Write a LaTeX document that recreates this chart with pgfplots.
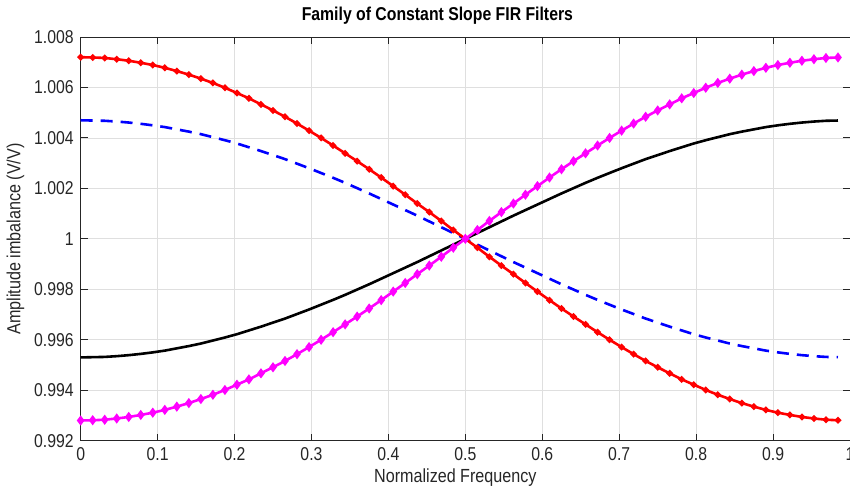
\documentclass[border=0pt]{standalone}
\usepackage{pgfplots}
\pgfplotsset{compat=1.18}
\usepackage{pgfplotstable}
\usepackage{fontspec}
\setmainfont[FakeStretch=0.85]{Liberation Sans}
\definecolor{axgray}{RGB}{38,38,38}
\definecolor{gridgray}{RGB}{223,223,223}
\definecolor{mag}{RGB}{255,0,255}
\pgfplotstableread{
f red mag blue black
0 1.00720 0.99280 1.00470 0.99530
0.015625 1.00719 0.99281 1.00469 0.99531
0.03125 1.00717 0.99283 1.00468 0.99532
0.046875 1.00712 0.99288 1.00465 0.99535
0.0625 1.00706 0.99294 1.00461 0.99539
0.078125 1.00698 0.99302 1.00456 0.99544
0.09375 1.00689 0.99311 1.00450 0.99550
0.109375 1.00678 0.99322 1.00443 0.99557
0.125 1.00665 0.99335 1.00434 0.99566
0.140625 1.00651 0.99349 1.00425 0.99575
0.15625 1.00635 0.99365 1.00415 0.99585
0.171875 1.00618 0.99382 1.00403 0.99597
0.1875 1.00599 0.99401 1.00391 0.99609
0.203125 1.00578 0.99422 1.00378 0.99622
0.21875 1.00557 0.99443 1.00363 0.99637
0.234375 1.00533 0.99467 1.00348 0.99652
0.25 1.00509 0.99491 1.00332 0.99668
0.265625 1.00484 0.99516 1.00316 0.99684
0.28125 1.00457 0.99543 1.00298 0.99702
0.296875 1.00429 0.99571 1.00280 0.99720
0.3125 1.00400 0.99600 1.00261 0.99739
0.328125 1.00370 0.99630 1.00242 0.99758
0.34375 1.00339 0.99661 1.00222 0.99778
0.359375 1.00308 0.99692 1.00201 0.99799
0.375 1.00276 0.99724 1.00180 0.99820
0.390625 1.00243 0.99757 1.00158 0.99842
0.40625 1.00209 0.99791 1.00136 0.99864
0.421875 1.00175 0.99825 1.00114 0.99886
0.4375 1.00140 0.99860 1.00092 0.99908
0.453125 1.00106 0.99894 1.00069 0.99931
0.46875 1.00071 0.99929 1.00046 0.99954
0.484375 1.00035 0.99965 1.00023 0.99977
0.5 1.00000 1.00000 1.00000 1.00000
0.515625 0.99965 1.00035 0.99977 1.00023
0.53125 0.99929 1.00071 0.99954 1.00046
0.546875 0.99894 1.00106 0.99931 1.00069
0.5625 0.99860 1.00140 0.99908 1.00092
0.578125 0.99825 1.00175 0.99886 1.00114
0.59375 0.99791 1.00209 0.99864 1.00136
0.609375 0.99757 1.00243 0.99842 1.00158
0.625 0.99724 1.00276 0.99820 1.00180
0.640625 0.99692 1.00308 0.99799 1.00201
0.65625 0.99661 1.00339 0.99778 1.00222
0.671875 0.99630 1.00370 0.99758 1.00242
0.6875 0.99600 1.00400 0.99739 1.00261
0.703125 0.99571 1.00429 0.99720 1.00280
0.71875 0.99543 1.00457 0.99702 1.00298
0.734375 0.99516 1.00484 0.99684 1.00316
0.75 0.99491 1.00509 0.99668 1.00332
0.765625 0.99467 1.00533 0.99652 1.00348
0.78125 0.99443 1.00557 0.99637 1.00363
0.796875 0.99422 1.00578 0.99622 1.00378
0.8125 0.99401 1.00599 0.99609 1.00391
0.828125 0.99382 1.00618 0.99597 1.00403
0.84375 0.99365 1.00635 0.99585 1.00415
0.859375 0.99349 1.00651 0.99575 1.00425
0.875 0.99335 1.00665 0.99566 1.00434
0.890625 0.99322 1.00678 0.99557 1.00443
0.90625 0.99311 1.00689 0.99550 1.00450
0.921875 0.99302 1.00698 0.99544 1.00456
0.9375 0.99294 1.00706 0.99539 1.00461
0.953125 0.99288 1.00712 0.99535 1.00465
0.96875 0.99283 1.00717 0.99532 1.00468
0.984375 0.99281 1.00719 0.99531 1.00469
}\datatable
\begin{document}
\begin{tikzpicture}[trim axis right]
\begin{axis}[
  scale only axis,
  width=385pt, height=202pt,
  xmin=0, xmax=1, ymin=0.992, ymax=1.008,
  xtick={0,0.1,0.2,0.3,0.4,0.5,0.6,0.7,0.8,0.9,1},
  xticklabels={0,0.1,0.2,0.3,0.4,0.5,0.6,0.7,0.8,0.9,1},
  ytick={0.992,0.994,0.996,0.998,1,1.002,1.004,1.006,1.008},
  yticklabels={0.992,0.994,0.996,0.998,1,1.002,1.004,1.006,1.008},
  grid=major,
  major grid style={gridgray, line width=0.4pt},
  axis line style={axgray, line width=0.5pt},
  tick style={axgray, line width=0.5pt},
  tick align=inside,
  major tick length=3.5pt,
  ticklabel style={font=\fontsize{9.3}{10}\selectfont, text=axgray},
  xlabel={Normalized Frequency},
  ylabel={Amplitude imbalance (V/V)},
  label style={font=\fontsize{9.5}{11}\selectfont, text=axgray},
  title={Family of Constant Slope FIR Filters},
  title style={font=\bfseries\fontsize{9.3}{10}\selectfont, yshift=-3pt, xshift=-14pt},
  xlabel style={yshift=3pt, xshift=-5pt},
  ylabel style={yshift=-2pt},
  /pgf/number format/assume math mode=true,
]
\addplot[blue, line width=1.3pt, dash pattern=on 6pt off 4pt] table[x=f, y=blue] {\datatable};
\addplot[black, line width=1.3pt] table[x=f, y=black] {\datatable};
\addplot[red, line width=1.3pt, mark=*, mark size=0.9pt] table[x=f, y=red] {\datatable};
\addplot[mag, line width=1.3pt, mark=diamond*, mark size=1.5pt] table[x=f, y=mag] {\datatable};
\end{axis}
\end{tikzpicture}
\end{document}
